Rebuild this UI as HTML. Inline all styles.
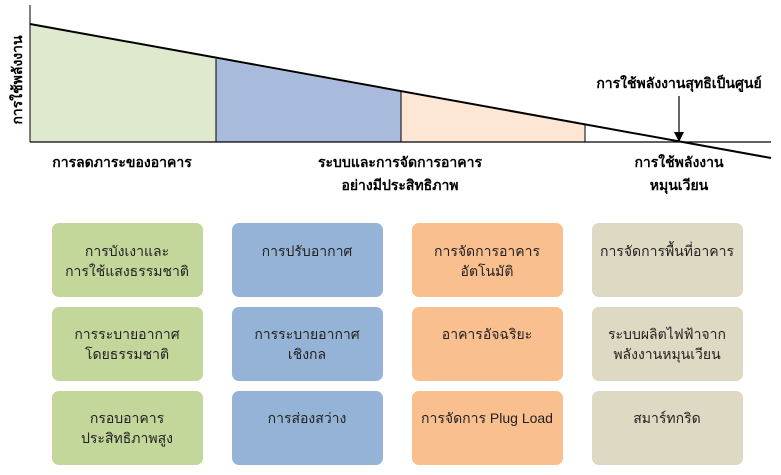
<!DOCTYPE html>
<html><head><meta charset="utf-8"><style>
body{margin:0;background:#fff;}
svg{display:block;font-family:"Liberation Sans","Noto Sans CJK SC","WenQuanYi Zen Hei",sans-serif;}
.b{font-weight:bold;font-size:14px;fill:#000;}
.t{font-size:14px;fill:#222;}
</style></head><body>
<svg width="781" height="475" viewBox="0 0 781 475">
<polygon points="30,24 216,59 216,142 30,142" fill="#dfe9cd"/>
<polygon points="216,59 401,92 401,142 216,142" fill="#a9bbdc"/>
<polygon points="401,92 585,125 585,142 401,142" fill="#fde6d4"/>
<line x1="216" y1="59" x2="216" y2="142" stroke="#000" stroke-width="1"/>
<line x1="401" y1="92" x2="401" y2="142" stroke="#000" stroke-width="1"/>
<line x1="585" y1="125" x2="585" y2="142" stroke="#000" stroke-width="1"/>
<line x1="30" y1="5" x2="30" y2="142" stroke="#000" stroke-width="1"/>
<line x1="30" y1="142" x2="771" y2="142" stroke="#000" stroke-width="1.2"/>
<line x1="30" y1="24" x2="771" y2="158" stroke="#000" stroke-width="2"/>
<line x1="679" y1="96" x2="679" y2="134" stroke="#000" stroke-width="1.2"/>
<polygon points="674,132 684,132 679,142" fill="#000"/>
<text class="b" x="0" y="0" transform="translate(22,80) rotate(-90)" text-anchor="middle">การใช้พลังงาน</text>
<text class="b" x="679" y="88" text-anchor="middle">การใช้พลังงานสุทธิเป็นศูนย์</text>
<text class="b" x="122" y="167" text-anchor="middle">การลดภาระของอาคาร</text>
<text class="b" x="400" y="167" text-anchor="middle">ระบบและการจัดการอาคาร</text>
<text class="b" x="400" y="190" text-anchor="middle">อย่างมีประสิทธิภาพ</text>
<text class="b" x="679" y="167" text-anchor="middle">การใช้พลังงาน</text>
<text class="b" x="679" y="190" text-anchor="middle">หมุนเวียน</text>
<g>
<rect x="52" y="223" width="151" height="74" rx="7" fill="#c4d79b"/>
<rect x="52" y="307" width="151" height="74" rx="7" fill="#c4d79b"/>
<rect x="52" y="391" width="151" height="74" rx="7" fill="#c4d79b"/>
<rect x="232" y="223" width="151" height="74" rx="7" fill="#95b3d7"/>
<rect x="232" y="307" width="151" height="74" rx="7" fill="#95b3d7"/>
<rect x="232" y="391" width="151" height="74" rx="7" fill="#95b3d7"/>
<rect x="412" y="223" width="151" height="74" rx="7" fill="#f9bf8f"/>
<rect x="412" y="307" width="151" height="74" rx="7" fill="#f9bf8f"/>
<rect x="412" y="391" width="151" height="74" rx="7" fill="#f9bf8f"/>
<rect x="592" y="223" width="151" height="74" rx="7" fill="#ddd9c3"/>
<rect x="592" y="307" width="151" height="74" rx="7" fill="#ddd9c3"/>
<rect x="592" y="391" width="151" height="74" rx="7" fill="#ddd9c3"/>
</g>
<g class="t" text-anchor="middle">
<text class="t" x="127" y="256">การบังเงาและ</text>
<text class="t" x="127" y="276">การใช้แสงธรรมชาติ</text>
<text class="t" x="127" y="339">การระบายอากาศ</text>
<text class="t" x="127" y="359">โดยธรรมชาติ</text>
<text class="t" x="127" y="423">กรอบอาคาร</text>
<text class="t" x="127" y="443">ประสิทธิภาพสูง</text>
<text class="t" x="307" y="256">การปรับอากาศ</text>
<text class="t" x="307" y="339">การระบายอากาศ</text>
<text class="t" x="307" y="359">เชิงกล</text>
<text class="t" x="307" y="423">การส่องสว่าง</text>
<text class="t" x="487" y="256">การจัดการอาคาร</text>
<text class="t" x="487" y="276">อัตโนมัติ</text>
<text class="t" x="487" y="339">อาคารอัจฉริยะ</text>
<text class="t" x="487" y="423">การจัดการ Plug Load</text>
<text class="t" x="667" y="256">การจัดการพื้นที่อาคาร</text>
<text class="t" x="667" y="339">ระบบผลิตไฟฟ้าจาก</text>
<text class="t" x="667" y="359">พลังงานหมุนเวียน</text>
<text class="t" x="667" y="423">สมาร์ทกริด</text>
</g>
</svg>
</body></html>
